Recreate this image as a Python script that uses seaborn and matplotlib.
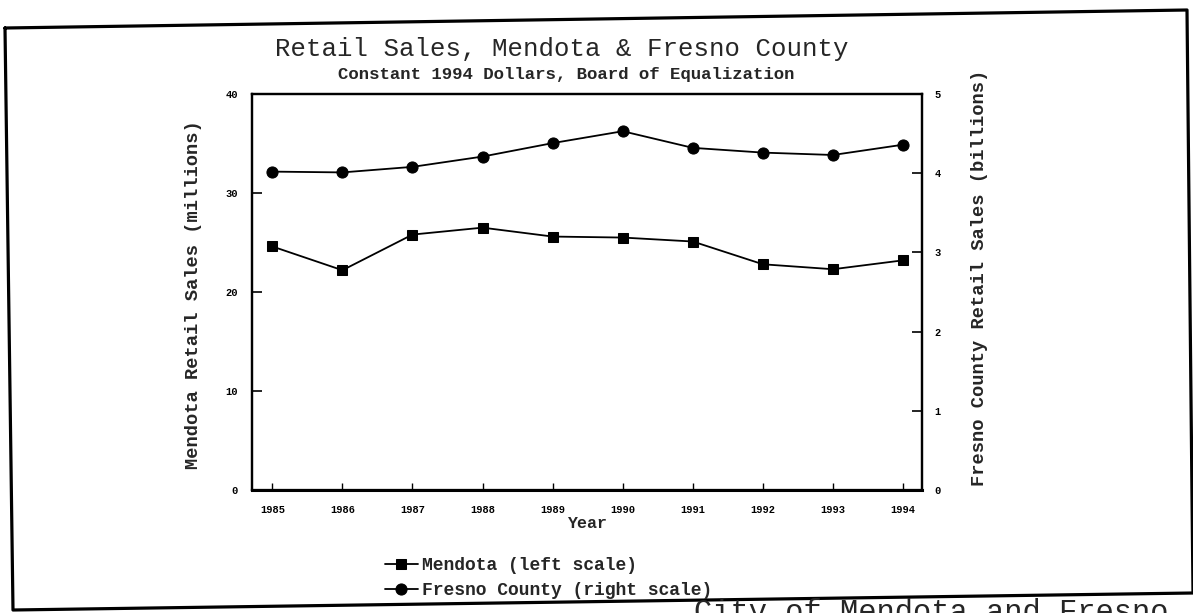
import matplotlib
matplotlib.use("Agg")
import matplotlib.pyplot as plt
import seaborn as sns
import pandas as pd
from matplotlib.lines import Line2D

# ---- data ----
years = [1985, 1986, 1987, 1988, 1989, 1990, 1991, 1992, 1993, 1994]
mendota_millions = [24.6, 22.2, 25.8, 26.5, 25.6, 25.5, 25.1, 22.8, 22.3, 23.2]
fresno_billions = [4.02, 4.01, 4.08, 4.21, 4.38, 4.53, 4.32, 4.26, 4.23, 4.36]
left_ticks = [0, 10, 20, 30, 40]
right_ticks = [0, 1, 2, 3, 4, 5]

title = "Retail Sales, Mendota & Fresno County"
subtitle = "Constant 1994 Dollars, Board of Equalization"
left_label = "Mendota Retail Sales (millions)"
right_label = "Fresno County Retail Sales (billions)"
x_label = "Year"
legend_labels = ["Mendota (left scale)", "Fresno County (right scale)"]
caption = "City of Mendota and Fresno"

sns.set_theme(style="white")
plt.rcParams["font.family"] = ["Liberation Mono", "DejaVu Sans"]

W, H = 1193, 613
fig = plt.figure(figsize=(W / 100, H / 100), dpi=100)
fig.patch.set_facecolor("white")

def fx(px):
    return px / W

def fy(py):
    return 1 - py / H

ax_l, ax_r, ax_t, ax_b = 252, 922, 94, 490
ax = fig.add_axes([fx(ax_l), fy(ax_b), (ax_r - ax_l) / W, (ax_b - ax_t) / H])

df = pd.DataFrame({"year": years, "mendota": mendota_millions, "fresno": fresno_billions})

sns.lineplot(data=df, x="year", y="mendota", ax=ax, color="black", marker="s",
             markersize=6.5, linewidth=1.3, markeredgecolor="black", legend=False)
ax2 = ax.twinx()
sns.lineplot(data=df, x="year", y="fresno", ax=ax2, color="black", marker="o",
             markersize=8, linewidth=1.3, markeredgecolor="black", legend=False)

ax.set_xlim(years[0] - 0.29, years[-1] + 0.27)
ax.set_ylim(left_ticks[0], left_ticks[-1])
ax2.set_ylim(right_ticks[0], right_ticks[-1])
ax.set_xticks(years)
ax.set_xticklabels([str(y) for y in years])
ax.set_yticks(left_ticks)
ax2.set_yticks(right_ticks)

for a in (ax, ax2):
    for s in a.spines.values():
        s.set_color("black")
        s.set_linewidth(1.6)
        s.set_visible(True)
ax.spines["bottom"].set_linewidth(2.2)

ax.tick_params(axis="y", direction="in", length=7, width=1.2, labelsize=7.5,
               pad=10, colors="black", left=True)
ax.tick_params(axis="x", direction="in", length=5, width=1.0, labelsize=7.5,
               pad=11, colors="black", bottom=True)
ax2.tick_params(axis="y", direction="in", length=7, width=1.2, labelsize=7.5,
                pad=9, colors="black", right=True)
for lbl in ax.get_xticklabels() + ax.get_yticklabels() + ax2.get_yticklabels():
    lbl.set_fontweight("bold")

ax.set_xlabel(x_label, fontsize=12, fontweight="bold", va="center")
ax.xaxis.set_label_coords(0.5, -33 / (ax_b - ax_t))
ax.set_ylabel(left_label, fontsize=13.5, fontweight="bold", va="center")
ax.yaxis.set_label_coords((193 - ax_l) / (ax_r - ax_l), (ax_b - 295) / (ax_b - ax_t))
ax2.set_ylabel(right_label, fontsize=13.5, fontweight="bold", va="center", rotation=90)
ax2.yaxis.set_label_coords((980 - ax_l) / (ax_r - ax_l), (ax_b - 278) / (ax_b - ax_t))

fig.text(fx(562), fy(49), title, fontsize=18.5, ha="center", va="center")
fig.text(fx(566), fy(75), subtitle, fontsize=12.5, fontweight="bold", ha="center", va="center")

handles = [ax.get_lines()[0], ax2.get_lines()[0]]
fig.legend(handles, legend_labels, loc="center left",
           bbox_to_anchor=(fx(385), fy(578)), frameon=False,
           prop={"family": "Liberation Mono", "weight": "bold", "size": 13},
           handlelength=1.8, handletextpad=0.25, labelspacing=0.45,
           borderpad=0, borderaxespad=0)

# scanned page border
bx = [5, 1187, 1193, 13, 5]
by = [28, 10, 593, 610, 28]
fig.add_artist(Line2D([fx(v) for v in bx], [fy(v) for v in by], color="black",
                      linewidth=2.3, transform=fig.transFigure))

# caption of the page, cut by the bottom edge of the scan
fig.text(fx(694), fy(621), caption, fontsize=22, ha="left", va="baseline")

fig.savefig("out.png", dpi=100, facecolor="white")
